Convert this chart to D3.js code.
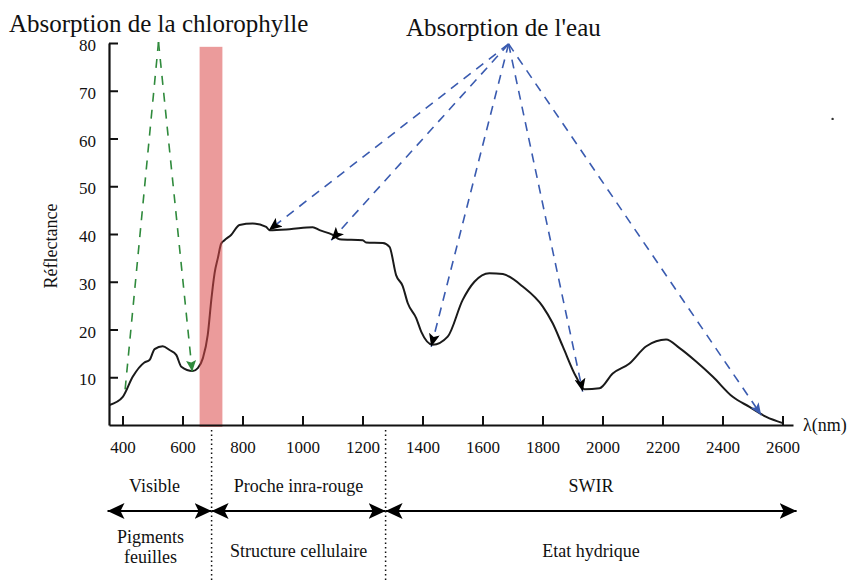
<!DOCTYPE html>
<html>
<head>
<meta charset="utf-8">
<script src="https://cdn.jsdelivr.net/npm/d3@7"></script>
<style>
  html, body { margin: 0; padding: 0; background: #fff; }
  svg { display: block; }
  text { font-family: "Liberation Serif", "Times New Roman", serif; fill: #111; }
</style>
</head>
<body>
<svg id="chart" width="853" height="583"></svg>
<script>
// ---------- data ----------
const wavelengths = [357, 401, 434, 473, 490, 507, 534, 557, 579, 596, 634, 651, 668, 684, 696, 701, 707, 718, 729, 740, 762, 790, 834, 879, 890, 957, 1034, 1057, 1101, 1123, 1201, 1212, 1268, 1290, 1312, 1334, 1351, 1379, 1396, 1434, 1484, 1534, 1573, 1623, 1668, 1734, 1801, 1834, 1868, 1912, 1940, 1990, 2034, 2090, 2146, 2212, 2257, 2312, 2368, 2434, 2490, 2546, 2601];
const reflectance = [4.2, 5.9, 10.1, 13.1, 13.6, 15.9, 16.5, 15.7, 14.7, 12.2, 11.3, 11.9, 14.0, 18.8, 26.2, 29.0, 31.8, 35.0, 38.0, 38.7, 39.8, 41.9, 42.2, 41.5, 40.8, 41.0, 41.4, 40.8, 39.8, 38.9, 38.7, 38.2, 38.1, 37.3, 31.4, 29.1, 25.5, 22.4, 19.5, 16.8, 18.5, 26.2, 30.0, 31.8, 31.6, 29.0, 24.8, 21.3, 16.4, 10.1, 7.5, 7.7, 10.8, 12.9, 16.5, 17.9, 16.1, 13.3, 10.1, 5.9, 3.8, 1.7, 0.4];

const xTicks = [400, 600, 800, 1000, 1200, 1400, 1600, 1800, 2000, 2200, 2400, 2600];
const yTicks = [10, 20, 30, 40, 50, 60, 70, 80];

// red-edge band [start, end, top]
const redBand = [657, 733, 79.2];

// chlorophyll absorption arrows: apex and targets [nm, value]
const chloroApex = [520, 80.2];
const chloroTargets = [[406.7, 6.1], [632.3, 11.2]];
const chloroHeads = [false, true];

// water absorption arrows
const waterApex = [1687, 79.8];
const waterTargets = [[887.7, 40.8], [1095.7, 38.7], [1429, 16.4], [1934, 7.0], [2529, 2.1]];
const waterHeadColors = ["black", "black", "black", "black", "blue"];

// spectral domains
const domainBounds = [350, 697, 1277, 2647];
const domainTop = ["Visible", "Proche inra-rouge", "SWIR"];
const domainBottom = [["Pigments", "feuilles"], ["Structure cellulaire"], ["Etat hydrique"]];

const titleChloro = "Absorption de la chlorophylle";
const titleWater = "Absorption de l'eau";
const yLabel = "Réflectance";
const xLabel = "λ(nm)";
const strayDot = [2767, 64.1];

// ---------- layout ----------
const FONT = "'Liberation Serif', 'Times New Roman', serif";
const svg = d3.select("#chart");
const x = d3.scaleLinear().domain([355, 2635]).range([109, 793]);
const y = d3.scaleLinear().domain([0, 80]).range([425, 43]);

const defs = svg.append("defs");
function marker(id, color, path, w, h, refX) {
  defs.append("marker")
    .attr("id", id).attr("markerUnits", "userSpaceOnUse")
    .attr("viewBox", `0 ${-h/2} ${w} ${h}`)
    .attr("refX", refX).attr("refY", 0)
    .attr("markerWidth", w).attr("markerHeight", h)
    .attr("orient", "auto-start-reverse")
    .append("path").attr("d", path).attr("fill", color);
}
marker("headBlack", "#000", "M0,-5.5L13,0L0,5.5L3,0Z", 13, 11, 13);
marker("headBlue", "#3a5bb0", "M0,-5L12,0L0,5L3,0Z", 12, 10, 12);
marker("headGreen", "#2f8a3c", "M0,-5L11,0L0,5L2,0Z", 11, 10, 11);
marker("headBig", "#000", "M0,-8L17,0L0,8L4,0Z", 17, 16, 17);

// ---------- curve ----------
const pts = wavelengths.map((w, i) => [w, reflectance[i]]);
svg.append("path")
  .datum(pts)
  .attr("fill", "none")
  .attr("stroke", "#1a1a1a")
  .attr("stroke-width", 2)
  .attr("stroke-linejoin", "round")
  .attr("d", d3.line().x(d => x(d[0])).y(d => y(d[1])).curve(d3.curveMonotoneX));

// ---------- red band (over curve) ----------
svg.append("rect")
  .attr("x", x(redBand[0]))
  .attr("width", x(redBand[1]) - x(redBand[0]))
  .attr("y", y(redBand[2]))
  .attr("height", y(0) + 2 - y(redBand[2]))
  .attr("fill", "rgb(218,73,73)")
  .attr("fill-opacity", 0.55);

// ---------- axes ----------
const fmt = d3.format("d");
const xAxis = svg.append("g")
  .attr("transform", `translate(0,${y(0)})`)
  .call(d3.axisBottom(x).tickValues(xTicks).tickFormat(fmt).tickSizeInner(-9).tickSizeOuter(0).tickPadding(16));
const yAxis = svg.append("g")
  .attr("transform", `translate(${x.range()[0]},0)`)
  .call(d3.axisLeft(y).tickValues(yTicks).tickFormat(fmt).tickSizeInner(-9).tickSizeOuter(0).tickPadding(13));
[xAxis, yAxis].forEach(g => {
  g.attr("font-family", FONT).attr("font-size", 17);
  g.select(".domain").attr("stroke", "#111").attr("stroke-width", 2.2);
  g.selectAll(".tick line").attr("stroke", "#111").attr("stroke-width", 2);
  g.selectAll(".tick text")
    .attr("font-family", FONT).style("font-family", FONT)
    .style("font-size", "17px").attr("fill", "#111");
});
yAxis.selectAll(".tick text").attr("dy", "0.45em");

svg.append("text")
  .attr("transform", `translate(57,${(y(0) + y(80)) / 2 + 12}) rotate(-90)`)
  .attr("text-anchor", "middle")
  .style("font-size", "18px")
  .text(yLabel);
svg.append("text")
  .attr("x", x.range()[1] + 10).attr("y", y(0) + 6)
  .style("font-size", "18px")
  .text(xLabel);

// ---------- titles ----------
svg.append("text").attr("x", 9).attr("y", 32).style("font-size", "25px").text(titleChloro);
svg.append("text").attr("x", 406).attr("y", 36).style("font-size", "25px").text(titleWater);

// ---------- dashed arrows ----------
chloroTargets.forEach((t, i) => {
  svg.append("line")
    .attr("x1", x(chloroApex[0])).attr("y1", y(chloroApex[1]))
    .attr("x2", x(t[0])).attr("y2", y(t[1]))
    .attr("stroke", "#2f8a3c").attr("stroke-width", 1.6)
    .attr("stroke-dasharray", "9,8")
    .attr("marker-end", chloroHeads[i] ? "url(#headGreen)" : null);
});
waterTargets.forEach((t, i) => {
  svg.append("line")
    .attr("x1", x(waterApex[0])).attr("y1", y(waterApex[1]))
    .attr("x2", x(t[0])).attr("y2", y(t[1]))
    .attr("stroke", "#3a5bb0").attr("stroke-width", 1.6)
    .attr("stroke-dasharray", "9,7")
    .attr("marker-end", waterHeadColors[i] === "blue" ? "url(#headBlue)" : "url(#headBlack)");
});

// ---------- spectral domains ----------
const lineY = 511;
for (let i = 0; i < domainTop.length; i++) {
  const a = x(domainBounds[i]), b = x(domainBounds[i + 1]);
  const cx = (a + b) / 2;
  svg.append("line")
    .attr("x1", a).attr("x2", b).attr("y1", lineY).attr("y2", lineY)
    .attr("stroke", "#000").attr("stroke-width", 2.2)
    .attr("marker-start", "url(#headBig)").attr("marker-end", "url(#headBig)");
  svg.append("text").attr("x", cx - (i === 0 ? 5 : 0)).attr("y", 492)
    .attr("text-anchor", "middle").style("font-size", "18px").text(domainTop[i]);
  const lines = domainBottom[i];
  lines.forEach((s, j) => {
    svg.append("text").attr("x", cx - (i === 0 ? 9 : 0))
      .attr("y", lines.length === 1 ? 557 : 543 + j * 20)
      .attr("text-anchor", "middle").style("font-size", "18px").text(s);
  });
}
// dotted separators
[domainBounds[1], domainBounds[2]].forEach(v => {
  svg.append("line")
    .attr("x1", x(v)).attr("x2", x(v)).attr("y1", y(0) + 5).attr("y2", 583)
    .attr("stroke", "#111").attr("stroke-width", 1.5)
    .attr("stroke-dasharray", "1.5,3");
});

// stray dot
svg.append("circle").attr("cx", x(strayDot[0])).attr("cy", y(strayDot[1])).attr("r", 1.2).attr("fill", "#333");
</script>
</body>
</html>
